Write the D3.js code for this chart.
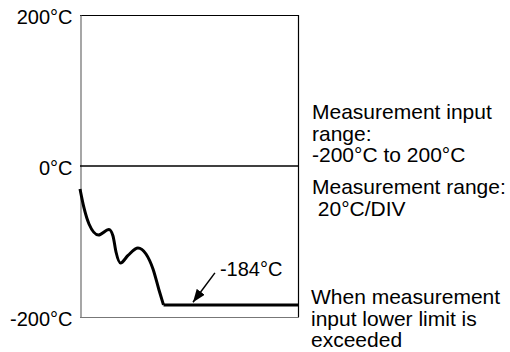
<!DOCTYPE html>
<html><head><meta charset="utf-8">
<script src="https://cdn.jsdelivr.net/npm/d3@7"></script>
<style>
html,body{margin:0;padding:0;background:#fff;}
svg{display:block;font-family:"Liberation Sans",Arial,Helvetica,sans-serif;}
</style></head><body>
<svg id="chart" width="510" height="352"></svg>
<script>
// ---- data ----
const yTicks = [-200, 0, 200];
const timeValues = [0, 1.83, 4.11, 8.45, 13.24, 15.07, 16.44, 18.49, 21.92, 26.48, 30.14, 33.33, 36.07, 38.13, 100];
const tempValues = [-30.5, -55.6, -76.8, -91.4, -84.1, -92.7, -113.9, -128.5, -118.5, -108.6, -116.6, -136.4, -164.2, -184, -184];
const limitValue = -184;
const limitLabel = "-184°C";
const arrowFrom = [61.6, -141.5];
const arrowTo = [51.6, -180.5];
const rangeLines1 = ["Measurement input", "range:", "-200°C to 200°C"];
const rangeLines2 = ["Measurement range:", " 20°C/DIV"];
const limitLines = ["When measurement", "input lower limit is", "exceeded"];

// ---- layout ----
const svg = d3.select("#chart");
const pL = 80, pR = 299, pT = 15, pB = 317;
const x = d3.scaleLinear().domain([0, 100]).range([pL, pR]);
const y = d3.scaleLinear().domain([-200, 200]).range([pB, pT]);
const fs = 20, fsR = 21;

svg.append("rect").attr("width", 510).attr("height", 352).attr("fill", "#fff");

// frame
svg.append("line").attr("x1", pL).attr("x2", pR).attr("y1", pT + 0.5).attr("y2", pT + 0.5).attr("stroke", "#000").attr("stroke-width", 1.2);
svg.append("line").attr("x1", pR - 0.5).attr("x2", pR - 0.5).attr("y1", pT).attr("y2", pB).attr("stroke", "#000").attr("stroke-width", 1.2);
svg.append("line").attr("x1", pL).attr("x2", pR).attr("y1", pB + 0.5).attr("y2", pB + 0.5).attr("stroke", "#777").attr("stroke-width", 1.2);

// y axis
const yAxis = d3.axisLeft(y).tickValues(yTicks).tickSize(0).tickPadding(8).tickFormat(d => d + "°C");
const ga = svg.append("g").attr("transform", `translate(${pL + 0.5},0)`).call(yAxis);
ga.select(".domain").attr("stroke", "#777").attr("stroke-width", 1.3);
ga.selectAll("text").attr("font-size", fs).attr("dy", "0.4em").attr("font-family", "'Liberation Sans',Arial,sans-serif").attr("fill", "#000");

// zero line
svg.append("line").attr("x1", pL).attr("x2", pR).attr("y1", y(0)).attr("y2", y(0)).attr("stroke", "#000").attr("stroke-width", 1.6);

// curve
const pts = timeValues.map((t, i) => [t, tempValues[i]]);
const n = pts.length;
const curveLine = d3.line().x(d => x(d[0])).y(d => y(d[1])).curve(d3.curveMonotoneX);
svg.append("path").attr("d", curveLine(pts.slice(0, n - 1))).attr("fill", "none").attr("stroke", "#000").attr("stroke-width", 3).attr("stroke-linejoin", "round").attr("stroke-linecap", "butt");
const straight = d3.line().x(d => x(d[0])).y(d => y(d[1]));
svg.append("path").attr("d", straight(pts.slice(n - 2))).attr("fill", "none").attr("stroke", "#000").attr("stroke-width", 3).attr("stroke-linecap", "butt");

// arrow
const defs = svg.append("defs");
defs.append("marker").attr("id", "ah").attr("markerUnits", "userSpaceOnUse")
  .attr("markerWidth", 14).attr("markerHeight", 10).attr("refX", 13).attr("refY", 5).attr("orient", "auto")
  .append("path").attr("d", "M0,0 L13,5 L0,10 Z").attr("fill", "#000");
svg.append("line").attr("x1", x(arrowFrom[0])).attr("y1", y(arrowFrom[1]))
  .attr("x2", x(arrowTo[0])).attr("y2", y(arrowTo[1]))
  .attr("stroke", "#000").attr("stroke-width", 1.5).attr("marker-end", "url(#ah)");
svg.append("text").attr("x", x(arrowFrom[0]) + 5).attr("y", y(arrowFrom[1]) + 3)
  .attr("font-size", fs).text(limitLabel);

// annotations
function block(lines, x0, y0, lh) {
  const t = svg.append("text").attr("font-size", fsR).attr("xml:space", "preserve").style("white-space", "pre");
  lines.forEach((s, i) => t.append("tspan").attr("x", x0).attr("y", y0 + i * lh).text(s));
}
block(rangeLines1, 312, 119, 21.5);
block(rangeLines2, 312, 194, 21.5);
block(limitLines, 311, 304, 21.5);
</script>
</body></html>
